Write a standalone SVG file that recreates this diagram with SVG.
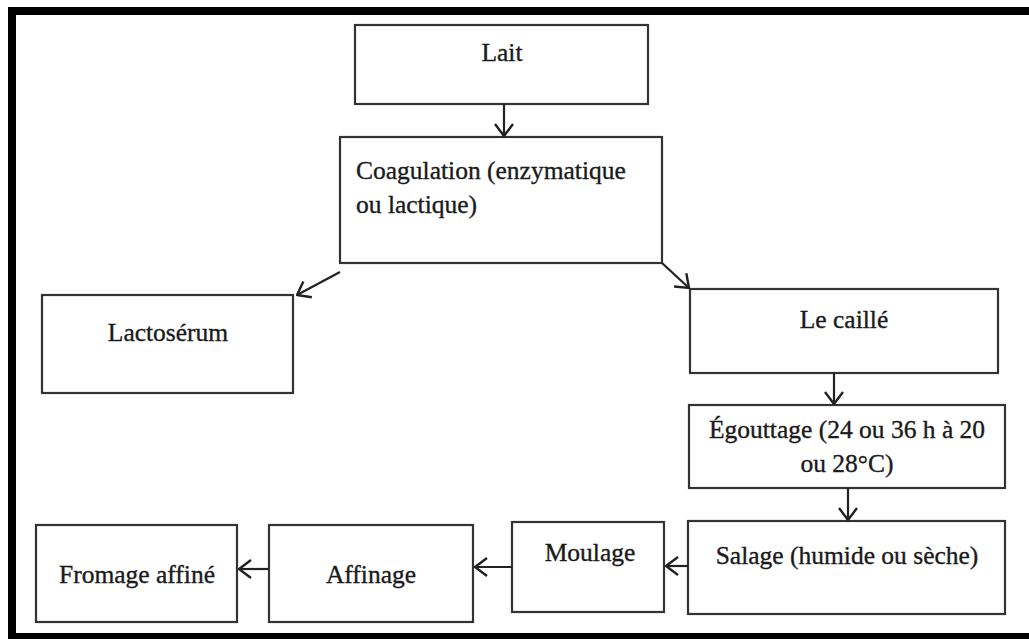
<svg xmlns="http://www.w3.org/2000/svg" width="1029" height="639" viewBox="0 0 1029 639">
<defs>
<style>
.box{fill:#fff;stroke:#333;stroke-width:2.2}
.t{font-family:"Liberation Serif","Times New Roman",serif;font-size:25.5px;fill:#1a1a1a;stroke:#1a1a1a;stroke-width:0.35}
.c{text-anchor:middle}
.ln{stroke:#222;stroke-width:2.2;fill:none;marker-end:url(#ah)}
</style>
<marker id="ah" viewBox="0 0 14 20" refX="13" refY="10" markerWidth="14" markerHeight="20" markerUnits="userSpaceOnUse" orient="auto">
<path d="M1,1 L13,10 L1,19" fill="none" stroke="#222" stroke-width="2.4"/>
</marker>
</defs>
<rect x="0" y="0" width="1029" height="639" fill="#fff"/>
<rect x="12" y="11" width="1040" height="626" fill="none" stroke="#000" stroke-width="8"/>

<g id="lait">
<rect class="box" x="355" y="25" width="293" height="79"/>
<text class="t c" x="502" y="61">Lait</text>
</g>
<g id="coagulation">
<rect class="box" x="340" y="137" width="322" height="126"/>
<text class="t" x="356" y="179">Coagulation (enzymatique</text>
<text class="t" x="356" y="213">ou lactique)</text>
</g>
<g id="lactoserum">
<rect class="box" x="42" y="295" width="251" height="98"/>
<text class="t c" x="168" y="341">Lactosérum</text>
</g>
<g id="caille">
<rect class="box" x="690" y="289" width="308" height="84"/>
<text class="t c" x="844" y="328">Le caillé</text>
</g>
<g id="egouttage">
<rect class="box" x="689" y="405" width="316" height="83"/>
<text class="t c" x="847" y="438">Égouttage (24 ou 36 h à 20</text>
<text class="t c" x="847" y="472">ou 28°C)</text>
</g>
<g id="salage">
<rect class="box" x="688" y="521" width="317" height="93"/>
<text class="t c" x="847" y="564">Salage (humide ou sèche)</text>
</g>
<g id="moulage">
<rect class="box" x="512" y="522" width="152" height="90"/>
<text class="t c" x="590" y="561">Moulage</text>
</g>
<g id="affinage">
<rect class="box" x="269" y="525" width="204" height="97"/>
<text class="t c" x="371" y="583">Affinage</text>
</g>
<g id="fromage">
<rect class="box" x="36" y="525" width="201" height="97"/>
<text class="t c" x="137" y="583">Fromage affiné</text>
</g>

<g id="connectors">
<line class="ln" x1="504" y1="104" x2="504" y2="136"/>
<line class="ln" x1="340" y1="272" x2="297" y2="295"/>
<line class="ln" x1="662" y1="263" x2="689" y2="288"/>
<line class="ln" x1="834" y1="373" x2="834" y2="404"/>
<line class="ln" x1="848" y1="488" x2="848" y2="520"/>
<line class="ln" x1="688" y1="566" x2="666" y2="566"/>
<line class="ln" x1="512" y1="567" x2="475" y2="567"/>
<line class="ln" x1="269" y1="569" x2="239" y2="569"/>
</g>
</svg>
